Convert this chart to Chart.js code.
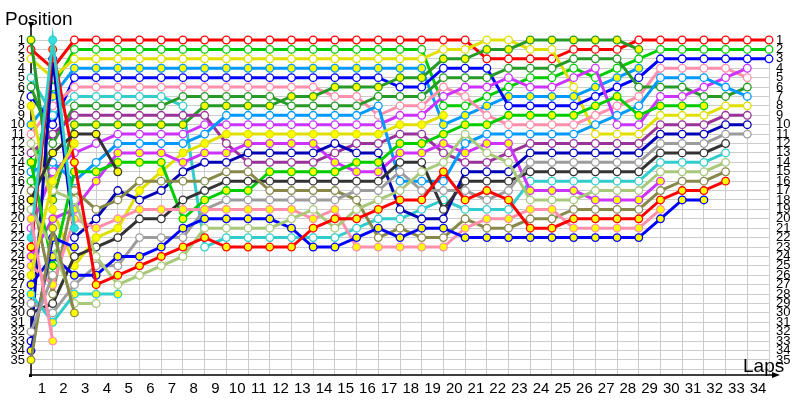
<!DOCTYPE html>
<html>
<head>
<meta charset="utf-8">
<script src="https://cdn.jsdelivr.net/npm/chart.js@4.4.1/dist/chart.umd.min.js"></script>
<style>
  body { margin: 0; background: #fff; }
  #wrap { width: 800px; height: 400px; }
</style>
</head>
<body>
<div id="wrap"><canvas id="lapChart" width="800" height="400"></canvas></div>
<script>
// lap numbers (x) and position tick labels (y)
const laps = [0,1,2,3,4,5,6,7,8,9,10,11,12,13,14,15,16,17,18,19,20,21,22,23,24,25,26,27,28,29,30,31,32,33,34];
const positions = [1,2,3,4,5,6,7,8,9,10,11,12,13,14,15,16,17,18,19,20,21,22,23,24,25,26,27,28,29,30,31,32,33,34,35,36];
const n = null;

// position of each car per lap (index = lap), null = not running
const red1 = [2,4,1,1,1,1,1,1,1,1,1,1,1,1,1,1,1,1,1,1,1,3,3,3,3,2,2,2,1,1,1,1,1,1,1];
const green1 = [16,6,2,2,2,2,2,2,2,2,2,2,2,2,2,2,2,2,2,8,8,7,6,5,5,4,5,4,3,2,2,2,2,2,2];
const yellow1 = [3,5,3,3,3,3,3,3,3,3,3,3,3,3,3,3,3,3,3,2,2,1,1,2,2,6,11,11,11,9,9,9,8,8,n];
const lightBlue1 = [10,7,4,4,4,4,4,4,4,4,4,4,4,4,4,4,4,4,4,10,9,8,7,7,7,7,6,5,4];
const blue1 = [7,10,5,5,5,5,5,5,5,5,5,5,5,5,5,5,5,6,6,4,4,4,8,8,8,8,7,6,5,3,3,3,3,3,3];
const pink1 = [11,8,6,6,6,6,6,6,6,6,6,6,6,6,7,7,9,8,8,6,7,9,10,10,10,10,9,8,7,4,4,4,4,5];
const cyan1 = [5,9,7,7,7,7,7,8,23,22,22,22,22,22,22,21,20,20,19,18,19,19,19,16,16,16,16,16,16,14,14,14,13];
const darkGreen2 = [6,12,8,8,8,8,8,7,7,7,7,7,8,8,8,8,7,7,7,5,5,5,4,4,4,3,3,3,6,6,6,7,7,6];
const darkGreen1 = [1,18,10,10,10,10,10,10,8,8,8,8,7,7,6,6,6,5,5,3,3,2,2,1,1,1,1,1,2];
const purple1 = [13,11,9,9,9,9,9,9,9,12,14,14,14,14,13,12,12,11,11,13,14,14,13,12,12,12,12,12,12,10,10,10,9,9];
const violet1 = [21,15,13,12,11,11,11,11,10,10,10,10,10,10,10,10,10,9,9,7,6,6,5,6,6,5,4,10,10,7,7,6,5,4];
const lightBlue2 = [15,14,16,14,12,12,12,12,11,9,9,9,9,9,9,9,8,16,16,16,12,11,11,11,11,11,10,9,8,5,5,5,6,7];
const yellow2 = [8,19,25,22,21,17,15,13,12,11,11,11,11,11,11,11,11,10,10,9];
const violet2 = [24,20,19,16,13,13,13,14,13,13,12,12,12,12,14,15,15,13,13,12,13,12,12,17,17,17,18,18,18,16];
const darkBlue = [33,3,22,20,17,18,17,15,14,14,13,13,13,13,12,13,13,19,20,20,15,15,15,13,13,13,13,13,13,11,11,11,10,10];
const green2 = [14,25,15,15,14,14,14,20,18,17,17,15,15,15,15,14,14,12,12,11,10,10,9,9,9,9,8,7,9,8,8,8];
const black1 = [30,29,24,23,22,20,20,18,17,16,16,16,16,16,16,16,16,14,14,19,16,16,16,15,15,15,15,15,15,13,13,13,12];
const olive1 = [17,28,17,19,18,16,16,16,16,15,15,17,17,17,17,18,22,21,22,22,20,21,21,20,20,19,19,19,19,17,16,16,15];
const gray1 = [29,30,27,25,25,22,22,22,19,18,18,18,18,18,18,17,17,15,17,17,17,18,17,14,14,14,14,14,14,12,12,12,11,11];
const pink2 = [25,27,20,21,20,19,19,19,19,19,19,19,19,20,19,23,23,23,23,23,21,20,20,19,19,21,21,21,21,19];
const blue2 = [27,24,26,26,24,24,23,21,20,20,20,20,21,23,23,22,21,22,21,21,22,22,22,22,22,22,22,22,22,20,18,18];
const lightGreen1 = [12,17,18,24,27,26,25,24,21,21,21,21,20,19,21,19,18,17,15,14,11,13,14,18,18,18,17,17,17,15,15,15,14];
const red2 = [23,2,14,27,26,25,24,23,22,23,23,23,23,21,20,20,19,18,18,15,18,17,18,21,21,20,20,20,20,18,17,17,16];
const black2 = [18,13,11,11,15];
const cyan2 = [28,31,28,28,28];
const lightGreen2 = [19,23,29,29];
const cyan3 = [22,1,21];
const yellow3 = [26,16,12];
const blue3 = [34,22,23];
const olive2 = [35,21,30];
const gray2 = [32,26];
const pink3 = [20,33];

// colours
const RED = '#ff0000', GREEN = '#00cc00', YELLOW = '#e0e000', LBLUE = '#0099ff', BLUE = '#0000ff',
      PINK = '#ff8fab', CYAN = '#33cccc', DGREEN = '#279927', PURPLE = '#993399', VIOLET = '#cc33ff',
      DBLUE = '#0000b4', GRAY = '#9c9c9c', BLACK = '#333333', LGREEN = '#a8c87a', OLIVE = '#88884a';
const W = '#ffffff', Y = '#ffff00';

// line colour + marker fill for each car (drawn in this order)
const cars = [
  [pink3, PINK, Y], [gray2, GRAY, W], [olive2, OLIVE, Y], [blue3, BLUE, Y], [yellow3, YELLOW, Y],
  [cyan3, CYAN, '#33e0e0'], [lightGreen2, LGREEN, W], [cyan2, CYAN, Y], [black2, BLACK, Y],
  [red2, RED, Y], [lightGreen1, LGREEN, W], [blue2, BLUE, Y], [pink2, PINK, Y], [gray1, GRAY, W],
  [olive1, OLIVE, W], [black1, BLACK, W], [green2, GREEN, Y], [darkBlue, DBLUE, W], [violet2, VIOLET, Y],
  [yellow2, YELLOW, Y], [lightBlue2, LBLUE, W], [violet1, VIOLET, W], [purple1, PURPLE, W],
  [darkGreen1, DGREEN, Y], [darkGreen2, DGREEN, W], [cyan1, CYAN, W], [pink1, PINK, W],
  [blue1, BLUE, W], [lightBlue1, LBLUE, Y], [yellow1, YELLOW, W], [green1, GREEN, W], [red1, RED, W]
];

const datasets = cars.map(([pos, colour, fill]) => ({
  data: pos.map((p, i) => ({ x: laps[i], y: p })).filter(d => d.y !== null),
  borderColor: colour,
  backgroundColor: colour,
  borderWidth: 3,
  pointRadius: 3.8,
  pointBorderWidth: 1.3,
  pointBorderColor: colour,
  pointBackgroundColor: fill,
  tension: 0,
  clip: false
}));

const tickFont = { family: 'Liberation Sans', size: 13 };

// axis lines, arrows and the two axis captions
const axisDecor = {
  id: 'axisDecor',
  beforeDatasetsDraw(chart) {
    const { ctx, chartArea: a } = chart;
    ctx.save();
    ctx.strokeStyle = '#000';
    ctx.fillStyle = '#000';
    ctx.lineWidth = 1.5;
    ctx.beginPath();
    ctx.moveTo(a.left, 26);
    ctx.lineTo(a.left, a.bottom + 1);
    ctx.moveTo(a.left - 2, a.bottom);
    ctx.lineTo(a.right + 8, a.bottom);
    ctx.stroke();
    ctx.beginPath();
    ctx.moveTo(a.left - 3, 22);
    ctx.lineTo(a.left + 3, 22);
    ctx.lineTo(a.left, 28);
    ctx.fill();
    ctx.beginPath();
    ctx.moveTo(a.right + 11, a.bottom);
    ctx.lineTo(a.right + 3, a.bottom - 3);
    ctx.lineTo(a.right + 3, a.bottom + 3);
    ctx.fill();
    ctx.fillRect(a.left - 2, a.bottom - 1, 3, 3);
    ctx.restore();
  },
  afterDraw(chart) {
    const { ctx } = chart;
    ctx.save();
    ctx.fillStyle = '#000';
    ctx.font = '19px "Liberation Sans"';
    ctx.textBaseline = 'alphabetic';
    ctx.fillText('Position', 5, 25);
    ctx.fillText('Laps', 743, 372);
    ctx.restore();
  }
};

const yAxis = (side) => ({
  type: 'linear',
  position: side,
  reverse: true,
  min: 1,
  max: 36.6,
  afterBuildTicks: s => { s.ticks = positions.map(v => ({ value: v })); },
  afterFit: s => { s.width = 31; },
  grid: { display: side === 'left', color: '#cccccc', lineWidth: 1, drawTicks: false },
  border: { display: false },
  ticks: {
    autoSkip: false,
    padding: side === 'left' ? 6 : 7,
    color: '#000',
    font: tickFont,
    callback: v => (v <= 35 ? v : '')
  }
});

new Chart(document.getElementById('lapChart'), {
  type: 'line',
  data: { datasets: datasets },
  plugins: [axisDecor],
  options: {
    responsive: false,
    devicePixelRatio: 1,
    animation: false,
    layout: { padding: { top: 40, left: 0, right: 0, bottom: 0 } },
    plugins: { legend: { display: false }, tooltip: { enabled: false }, title: { display: false } },
    scales: {
      x: {
        type: 'linear',
        min: 0,
        max: 34,
        afterBuildTicks: s => { s.ticks = laps.map(v => ({ value: v })); },
        afterFit: s => { s.height = 25; },
        grid: { color: '#cccccc', lineWidth: 1, drawTicks: false },
        border: { display: false },
        ticks: {
          autoSkip: false,
          maxRotation: 0,
          padding: 5,
          labelOffset: -10.9,
          color: '#000',
          font: { family: 'Liberation Sans', size: 15 },
          callback: v => (v === 0 ? '' : v)
        }
      },
      y: yAxis('left'),
      y2: yAxis('right')
    }
  }
});
</script>
</body>
</html>
